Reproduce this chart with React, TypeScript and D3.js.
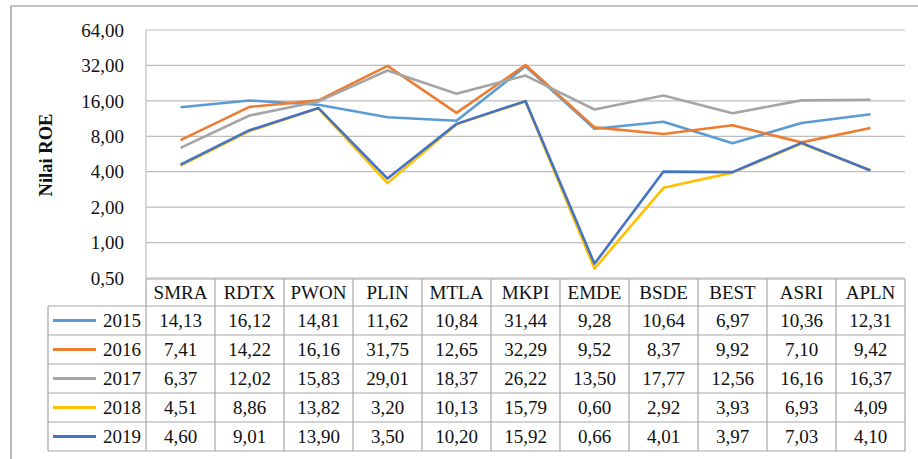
import React from "react";
import * as d3 from "d3";

// data
const categories = ["SMRA", "RDTX", "PWON", "PLIN", "MTLA", "MKPI", "EMDE", "BSDE", "BEST", "ASRI", "APLN"];
const years = ["2015", "2016", "2017", "2018", "2019"];
const roe2015 = [14.13, 16.12, 14.81, 11.62, 10.84, 31.44, 9.28, 10.64, 6.97, 10.36, 12.31];
const roe2016 = [7.41, 14.22, 16.16, 31.75, 12.65, 32.29, 9.52, 8.37, 9.92, 7.1, 9.42];
const roe2017 = [6.37, 12.02, 15.83, 29.01, 18.37, 26.22, 13.5, 17.77, 12.56, 16.16, 16.37];
const roe2018 = [4.51, 8.86, 13.82, 3.2, 10.13, 15.79, 0.6, 2.92, 3.93, 6.93, 4.09];
const roe2019 = [4.6, 9.01, 13.9, 3.5, 10.2, 15.92, 0.66, 4.01, 3.97, 7.03, 4.1];
const yTicks = [0.5, 1, 2, 4, 8, 16, 32, 64];
const colors = ["#5B9BD5", "#ED7D31", "#A5A5A5", "#FFC000", "#4472C4"];

const series = [roe2015, roe2016, roe2017, roe2018, roe2019];

const W = 918;
const H = 459;
const FONT = "'Liberation Serif', 'Times New Roman', serif";

// comma decimal, two places
const fmt = (v: number) => v.toFixed(2).replace(".", ",");

export default function App() {
  const plotLeft = 146;
  const plotRight = 905;
  const plotTop = 30;
  const plotBottom = 278;
  const legendLeft = 48;
  const rowH = 29;
  const headTop = 279;
  const headBottom = 306;

  const x = d3.scaleBand<string>().domain(categories).range([plotLeft, plotRight]);
  const y = d3.scaleLog().base(2).domain([0.5, 64]).range([plotBottom, plotTop]);

  const line = d3
    .line<number>()
    .x((_, i) => (x(categories[i]) as number) + x.bandwidth() / 2)
    .y((d) => y(d));

  const rowTop = (i: number) => headBottom + i * rowH;
  const tableBottom = rowTop(years.length);

  return (
    <svg
      width={W}
      height={H}
      style={{ position: "absolute", left: 0, top: 0, background: "#fff", fontFamily: FONT }}
    >
      {/* chart area frame */}
      <line x1={11} x2={W} y1={6} y2={6} stroke="#8c8c8c" strokeWidth={1.2} />
      <line x1={11} x2={11} y1={6} y2={H} stroke="#8c8c8c" strokeWidth={1.2} />

      {/* gridlines */}
      {yTicks.map((t) => (
        <line key={t} x1={plotLeft} x2={plotRight} y1={y(t)} y2={y(t)} stroke="#bdbdbd" strokeWidth={1.2} />
      ))}
      <line x1={plotLeft} x2={plotLeft} y1={plotTop} y2={headTop} stroke="#bdbdbd" strokeWidth={1.2} />

      {/* y tick labels */}
      {yTicks.map((t) => (
        <text key={t} x={124} y={y(t)} dy="0.35em" textAnchor="end" fontSize={19} fill="#111">
          {fmt(t)}
        </text>
      ))}

      <text
        transform={`translate(52,155) rotate(-90)`}
        textAnchor="middle"
        fontSize={18.5}
        fontWeight="bold"
        fill="#111"
      >
        Nilai ROE
      </text>

      {/* lines */}
      {series.map((s, i) => (
        <path key={years[i]} d={line(s) || ""} fill="none" stroke={colors[i]} strokeWidth={2.6} strokeLinejoin="round" />
      ))}

      {/* data table */}
      <g stroke="#a6a6a6" strokeWidth={1.2}>
        <line x1={plotLeft} x2={plotRight} y1={headTop} y2={headTop} />
        {years.map((_, i) => (
          <line key={i} x1={legendLeft} x2={plotRight} y1={rowTop(i)} y2={rowTop(i)} />
        ))}
        <line x1={legendLeft} x2={plotRight} y1={tableBottom} y2={tableBottom} />
        <line x1={legendLeft} x2={legendLeft} y1={headBottom} y2={tableBottom} />
        <line x1={plotLeft} x2={plotLeft} y1={headTop} y2={tableBottom} />
        {categories.map((c) => {
          const xr = (x(c) as number) + x.bandwidth();
          return <line key={c} x1={xr} x2={xr} y1={headTop} y2={tableBottom} />;
        })}
      </g>

      {categories.map((c) => (
        <text
          key={c}
          x={(x(c) as number) + x.bandwidth() / 2}
          y={(headTop + headBottom) / 2}
          dy="0.35em"
          textAnchor="middle"
          fontSize={19}
          fill="#111"
        >
          {c}
        </text>
      ))}

      {years.map((yr, i) => {
        const cy = rowTop(i) + rowH / 2;
        return (
          <g key={yr}>
            <line x1={53} x2={96} y1={cy} y2={cy} stroke={colors[i]} strokeWidth={3} />
            <text x={141} y={cy} dy="0.35em" textAnchor="end" fontSize={19} fill="#111">
              {yr}
            </text>
            {series[i].map((v, j) => (
              <text
                key={j}
                x={(x(categories[j]) as number) + x.bandwidth() / 2}
                y={cy}
                dy="0.35em"
                textAnchor="middle"
                fontSize={19}
                fill="#111"
              >
                {fmt(v)}
              </text>
            ))}
          </g>
        );
      })}
    </svg>
  );
}
